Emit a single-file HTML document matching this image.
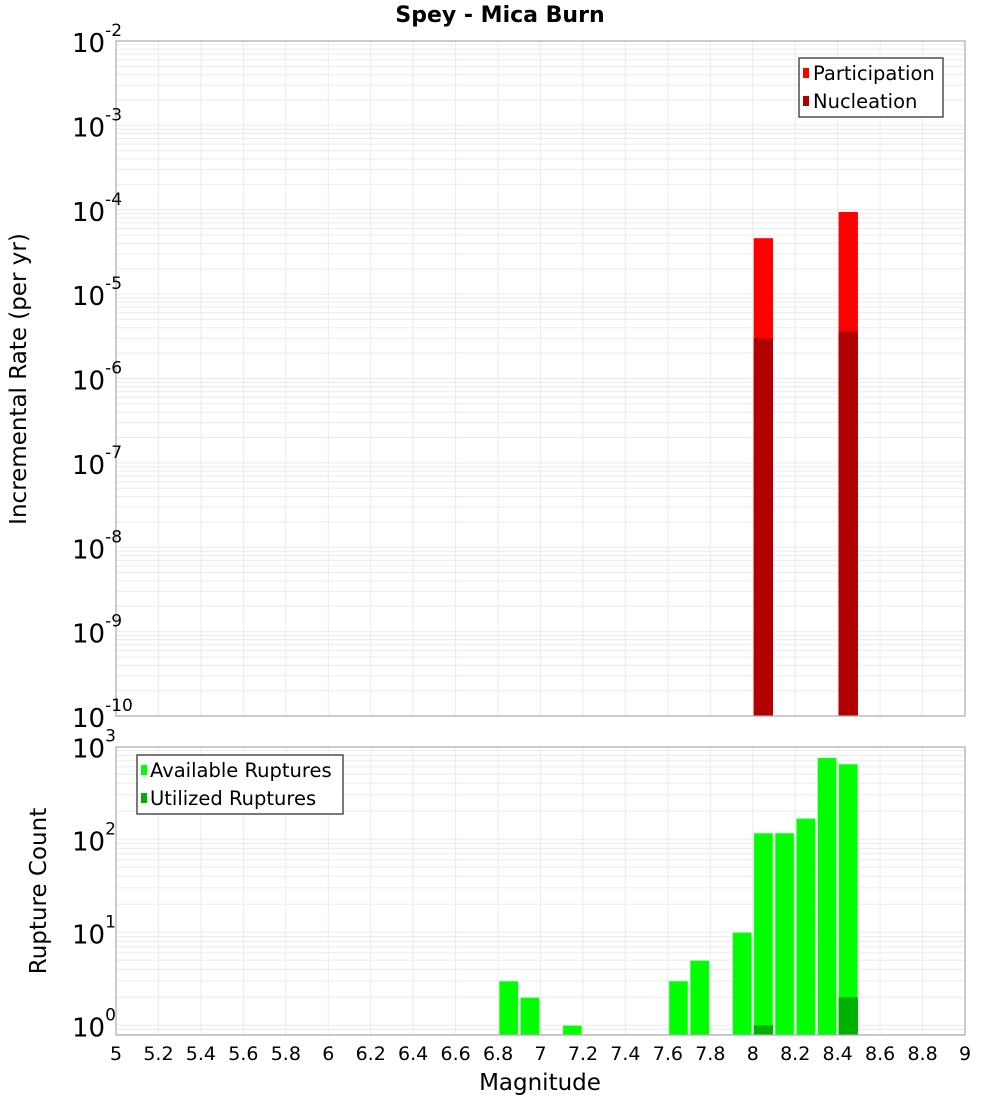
<!DOCTYPE html>
<html><head><meta charset="utf-8"><style>
body{margin:0;background:#fff;}
svg{display:block;font-family:"DejaVu Sans","Liberation Sans",sans-serif;}
</style></head><body>
<svg id="c" width="1000" height="1100" xmlns="http://www.w3.org/2000/svg">
<text x="500" y="22" text-anchor="middle" font-size="22" font-weight="bold">Spey - Mica Burn</text>
<g id="top"></g>
<g id="bot"></g>
<text transform="translate(26,379) rotate(-90)" text-anchor="middle" font-size="23">Incremental Rate (per yr)</text>
<text transform="translate(46,891) rotate(-90)" text-anchor="middle" font-size="23">Rupture Count</text>
<text x="540" y="1090" text-anchor="middle" font-size="23">Magnitude</text>
<g id="legends"></g>
</svg>
<script>
const mags = [8.05, 8.45];
const participation = [4.6e-5, 9.4e-5];
const nucleation = [3.0e-6, 3.6e-6];
const countMags = [6.85, 6.95, 7.15, 7.65, 7.75, 7.95, 8.05, 8.15, 8.25, 8.35, 8.45];
const available = [3, 2, 1, 3, 5, 10, 117, 117, 168, 755, 646];
const utilMags = [8.05, 8.45];
const utilized = [1, 2];
const xTicks = ['5','5.2','5.4','5.6','5.8','6','6.2','6.4','6.6','6.8','7','7.2','7.4','7.6','7.8','8','8.2','8.4','8.6','8.8','9'];

const NS='http://www.w3.org/2000/svg';
const L=116,R=965;
const xs=m=>L+(m-5)/4*(R-L);
const T1=41,B1=716, yTop=v=>T1+(-2-Math.log10(v))*(B1-T1)/8;
const T2=747,B2=1035, yBot=v=>1025.3-Math.log10(v)*93;
function mk(tag,attrs,parent){const e=document.createElementNS(NS,tag);for(const k in attrs)e.setAttribute(k,attrs[k]);parent.appendChild(e);return e;}
const gTop=document.getElementById('top'), gBot=document.getElementById('bot');
function grid(g,T,B,yf,dmin,dmax){
  for(let d=dmin;d<dmax;d++)for(let k=1;k<10;k++){const y=yf(k*Math.pow(10,d));if(y>=T&&y<=B)mk('line',{x1:L,x2:R,y1:y,y2:y,stroke:'#ebebeb','stroke-width':1},g);}
  xTicks.forEach(t=>{const X=xs(+t);mk('line',{x1:X,x2:X,y1:T,y2:B,stroke:'#ebebeb','stroke-width':1},g);});
}
grid(gTop,T1,B1,yTop,-10,-1);
grid(gBot,T2,B2,yBot,-1,3);
const bw=0.091*(R-L)/4;
mags.forEach((m,i)=>{
  const r=mk('rect',{x:xs(m)-bw/2,y:yTop(participation[i]),width:bw,height:B1-yTop(participation[i]),fill:'#ff0000'},gTop);
  
  
});
mags.forEach((m,i)=>{
  const r=mk('rect',{x:xs(m)-bw/2,y:yTop(nucleation[i]),width:bw,height:B1-yTop(nucleation[i]),fill:'#b00000'},gTop);
  
  
});
countMags.forEach((m,i)=>{
  const r=mk('rect',{x:xs(m)-bw/2,y:yBot(available[i]),width:bw,height:B2-yBot(available[i]),fill:'#00ff00',stroke:'#d8f8d8','stroke-width':0.8},gBot);
  
  
});
utilMags.forEach((m,i)=>{
  const r=mk('rect',{x:xs(m)-bw/2,y:yBot(utilized[i]),width:bw,height:B2-yBot(utilized[i]),fill:'#00b000'},gBot);
  
  
});
mk('rect',{x:L,y:T1,width:R-L,height:B1-T1,fill:'none',stroke:'#aaa','stroke-width':1.2},gTop);
mk('rect',{x:L,y:T2,width:R-L,height:B2-T2,fill:'none',stroke:'#aaa','stroke-width':1.2},gBot);
function powLabel(g,yy,exp){
  const t=mk('text',{x:72,y:yy+11,'font-size':26},g);
  
  
  t.textContent='10';
  const s=mk('tspan',{dy:-16,'font-size':17},t);s.textContent=exp;
}
for(let d=-2;d>=-10;d--)powLabel(gTop,yTop(Math.pow(10,d)),String(d));
for(let d=0;d<=3;d++)powLabel(gBot,yBot(Math.pow(10,d)),String(d));
xTicks.forEach(t=>{
  const e=mk('text',{x:xs(+t),y:1060,'text-anchor':'middle','font-size':19},gBot);
  
  
  e.textContent=t;
});
</script>
<svg width="0" height="0" style="position:absolute"></svg>
<div style="position:absolute;left:0;top:0;width:1000px;height:1100px;pointer-events:none">
<svg width="1000" height="1100" xmlns="http://www.w3.org/2000/svg" style="font-family:'DejaVu Sans','Liberation Sans',sans-serif">
<g>
<rect x="799" y="58" width="144" height="59" fill="#fff" stroke="#333" stroke-width="1.3"/>
<rect x="803" y="68" width="6" height="10" fill="#ff0000"/>
<text x="813" y="80" font-size="19.5">Participation</text>
<rect x="803" y="96" width="6" height="10" fill="#b00000"/>
<text x="813" y="108" font-size="19.5">Nucleation</text>
</g>
<g>
<rect x="137" y="755" width="206" height="59" fill="#fff" stroke="#333" stroke-width="1.3"/>
<rect x="141" y="765" width="6" height="10" fill="#00ff00"/>
<text x="150" y="777" font-size="19.5">Available Ruptures</text>
<rect x="141" y="793" width="6" height="10" fill="#00b000"/>
<text x="150" y="805" font-size="19.5">Utilized Ruptures</text>
</g>
</svg>
</div>
</body></html>
